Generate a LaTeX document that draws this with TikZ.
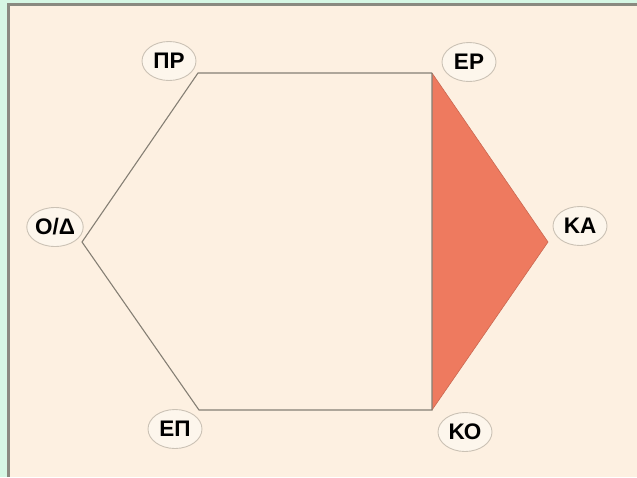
\documentclass[tikz,border=0pt]{standalone}
\usepackage{fontspec}
\setmainfont{Liberation Sans}
\usetikzlibrary{shapes.geometric}
\definecolor{bggreen}{HTML}{D6F7E4}
\definecolor{bgbeige}{HTML}{FDF0E1}
\definecolor{framegray}{HTML}{8A8A80}
\definecolor{edgegray}{HTML}{857F74}
\definecolor{redfill}{HTML}{EE7A5F}
\definecolor{ovalfill}{HTML}{FDF6EC}
\definecolor{ovaldraw}{HTML}{CBC2B5}
\tikzset{
  lbl/.style={ellipse, draw=ovaldraw, line width=0.9pt, fill=ovalfill,
    minimum width=54pt, minimum height=39pt, inner sep=0pt,
    font=\fontsize{22.5}{22.5}\selectfont\bfseries, text=black},
  edge/.style={draw=edgegray, line width=1.1pt}
}
\begin{document}
\begin{tikzpicture}[x=1pt,y=-1pt]
\useasboundingbox (0,0) rectangle (637,477);
\fill[bggreen] (0,0) rectangle (637,477);
\fill[bgbeige] (7,3) rectangle (637,477);
\draw[framegray, line width=3pt] (8.5,477) -- (8.5,4.5) -- (637,4.5);
% vertices
\coordinate (vPR) at (198,73);
\coordinate (vER) at (432,73);
\coordinate (vKA) at (548,242);
\coordinate (vKO) at (432,410);
\coordinate (vEP) at (199,410);
\coordinate (vOD) at (82,242);
% red triangle
\fill[redfill] (vER) -- (vKA) -- (vKO) -- cycle;
\draw[redfill!85!black, line width=0.6pt] (vER) -- (vKA) -- (vKO);
% hexagon edges
\draw[edge] (vER) -- (vPR) -- (vOD) -- (vEP) -- (vKO) -- (vER);
% labels
\node[lbl] (PR) at (169,61) {ΠΡ};
\node[lbl] (ER) at (469,62) {ΕΡ};
\node[lbl] (OD) at (55,227) {Ο/Δ};
\node[lbl] (KA) at (580,226) {ΚΑ};
\node[lbl] (KO) at (465,432) {ΚΟ};
\node[lbl] (EP) at (175,429) {ΕΠ};
\end{tikzpicture}
\end{document}
